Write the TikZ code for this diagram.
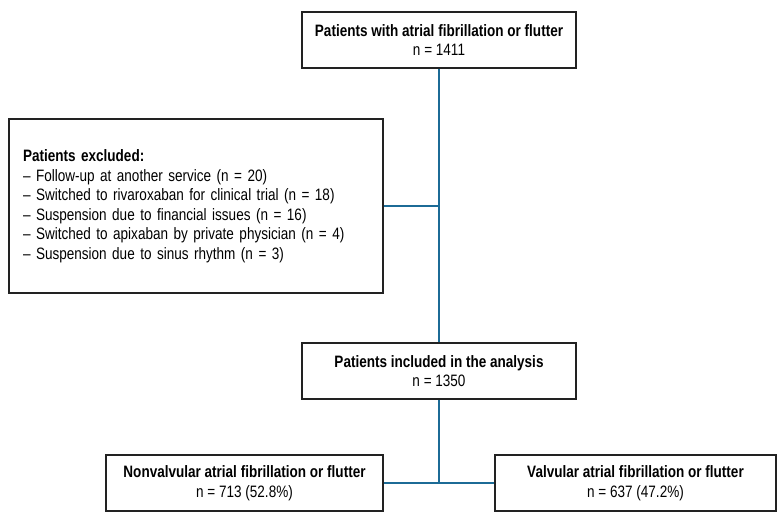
\documentclass[tikz,border=0pt]{standalone}
\usepackage{fontspec}
\setmainfont{Liberation Sans}[FakeStretch=0.82]
\usepackage{xcolor}
\usetikzlibrary{positioning}
\definecolor{flowblue}{HTML}{1C6B96}
\definecolor{boxline}{HTML}{222222}

\begin{document}
\begin{tikzpicture}[x=1pt,y=-1pt,
  flowbox/.style={rectangle,draw=boxline,line width=1.6pt,fill=white,align=center,font=\fontsize{16.5}{19.5}\selectfont,inner sep=0pt},
  link/.style={draw=flowblue,line width=1.6pt}]
\useasboundingbox (0,0) rectangle (783,520);
\node[flowbox,minimum width=274pt,minimum height=56pt] (total) at (439,40) {\textbf{Patients with atrial fibrillation or flutter}\\n = 1411};
\node[flowbox,minimum width=374pt,minimum height=174pt,align=left,text width=346pt] (excl) at (196,206)
  {\textbf{Patients excluded:}\\
   -- Follow-up at another service (n = 20)\\
   -- Switched to rivaroxaban for clinical trial (n = 18)\\
   -- Suspension due to financial issues (n = 16)\\
   -- Switched to apixaban by private physician (n = 4)\\
   -- Suspension due to sinus rhythm (n = 3)};
\node[flowbox,minimum width=274pt,minimum height=56pt] (incl) at (439,371) {\textbf{Patients included in the analysis}\\n = 1350};
\node[flowbox,minimum width=277pt,minimum height=56pt] (nonvalv) at (244.5,483) {\textbf{Nonvalvular atrial fibrillation or flutter}\\n = 713 (52.8\%)};
\node[flowbox,minimum width=281pt,minimum height=56pt] (valv) at (635.5,483) {\textbf{Valvular atrial fibrillation or flutter}\\n = 637 (47.2\%)};
\coordinate (split) at (incl |- nonvalv);
% connectors
\draw[link] (total) -- (incl);
\draw[link] (excl.east) -- (excl.east -| total);
\draw[link] (incl) -- (split);
\draw[link] (nonvalv) -- (valv);
\end{tikzpicture}
\end{document}
